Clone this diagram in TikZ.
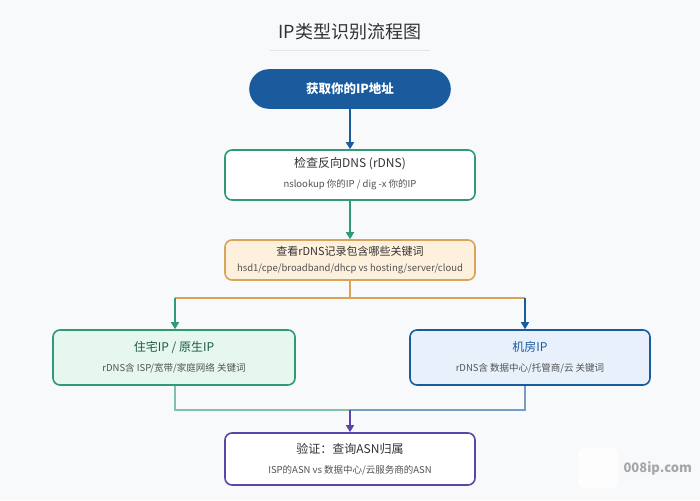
\documentclass[tikz,border=0pt]{standalone}
\usepackage{fontspec}
\setmainfont{Noto Sans CJK SC}
\usetikzlibrary{arrows.meta}
\definecolor{bg}{HTML}{F7F9FB}
\definecolor{dblue}{HTML}{1A5B9E}
\definecolor{grn}{HTML}{2E9A77}
\definecolor{org}{HTML}{D9A35A}
\definecolor{orgf}{HTML}{FDF0DC}
\definecolor{grnf}{HTML}{E6F7EF}
\definecolor{bluf}{HTML}{E8F0FB}
\definecolor{pur}{HTML}{5A45A8}
\definecolor{txt}{HTML}{333333}
\begin{document}
\begin{tikzpicture}[x=1pt,y=-1pt,
 box/.style={draw,rounded corners=7pt,line width=1.6pt,align=center,text=txt,inner sep=0pt},
 t1/.style={font=\fontsize{12}{14}\selectfont},
 t2/.style={font=\fontsize{9.5}{11}\selectfont,text=txt!85},
 arr/.style={line width=1.4pt,-{Triangle[length=7pt,width=8pt]}}]
\fill[bg] (0,0) rectangle (700,500);
\useasboundingbox (0,0) rectangle (700,500);
\node[text=txt,font=\fontsize{18}{20}\selectfont] (title) at (350,32) {IP类型识别流程图};
\draw[black!10,line width=1pt] (270,51) -- (430,51);
\node[box,draw=dblue,fill=dblue,rounded corners=19pt,minimum width=200pt,minimum height=38pt,text=white,font=\fontsize{12.5}{14}\bfseries] (start) at (350,89) {获取你的IP地址};
\node[box,draw=grn,fill=white,minimum width=250pt,minimum height=50pt] (dns) at (350,175) {};
\node[t1,text=txt] at (350,164) {检查反向DNS (rDNS)};
\node[t2] at (350,185) {nslookup 你的IP / dig -x 你的IP};
\node[box,draw=org,fill=orgf,minimum width=250pt,minimum height=40pt] (kw) at (350,260) {};
\node[t1,text=txt,font=\fontsize{11}{13}\selectfont] at (350,251) {查看rDNS记录包含哪些关键词};
\node[t2] at (350,269) {hsd1/cpe/broadband/dhcp vs hosting/server/cloud};
\node[box,draw=grn,fill=grnf,minimum width=242pt,minimum height=55pt] (res) at (174,357.5) {};
\node[t1,text=grn!60!black] at (174,347) {住宅IP / 原生IP};
\node[t2] at (174,368) {rDNS含 ISP/宽带/家庭网络 关键词};
\node[box,draw=dblue,fill=bluf,minimum width=240pt,minimum height=55pt] (dc) at (530,357.5) {};
\node[t1,text=dblue] at (530,347) {机房IP};
\node[t2] at (530,368) {rDNS含 数据中心/托管商/云 关键词};
\node[box,draw=pur,fill=white,minimum width=250pt,minimum height=52pt] (ver) at (350,459) {};
\node[t1,text=txt] at (350,449) {验证：查询ASN归属};
\node[t2] at (350,470) {ISP的ASN vs 数据中心/云服务商的ASN};
\draw[arr,dblue] (start) -- (dns);
\draw[arr,grn] (dns) -- (kw);
\coordinate (sp) at (350,298);
\coordinate (ml) at (175,410);
\coordinate (mr) at (525,410);
\coordinate (mm) at (350,410);
\draw[org,line width=1.4pt] (kw.south) -- (sp);
\draw[org,line width=1.4pt] (175,298) -- (525,298);
\draw[arr,grn] (175,298) -- (res.north-|175,0);
\draw[arr,dblue] (525,298) -- (dc.north-|525,0);
\draw[grn!60,line width=1.2pt] (res.south-|175,0) -- (ml) -- (mm);
\draw[dblue!60,line width=1.2pt] (dc.south-|525,0) -- (mr) -- (mm);
\draw[arr,pur] (mm) -- (ver);
\node[fill=white,rounded corners=6pt,minimum width=40pt,minimum height=40pt,opacity=0.8] (wm) at (598,468) {};
\node[text=black!35,font=\fontsize{13}{15}\selectfont\bfseries,anchor=west] (wmt) at (620,468) {008ip.com};
\end{tikzpicture}
\end{document}
